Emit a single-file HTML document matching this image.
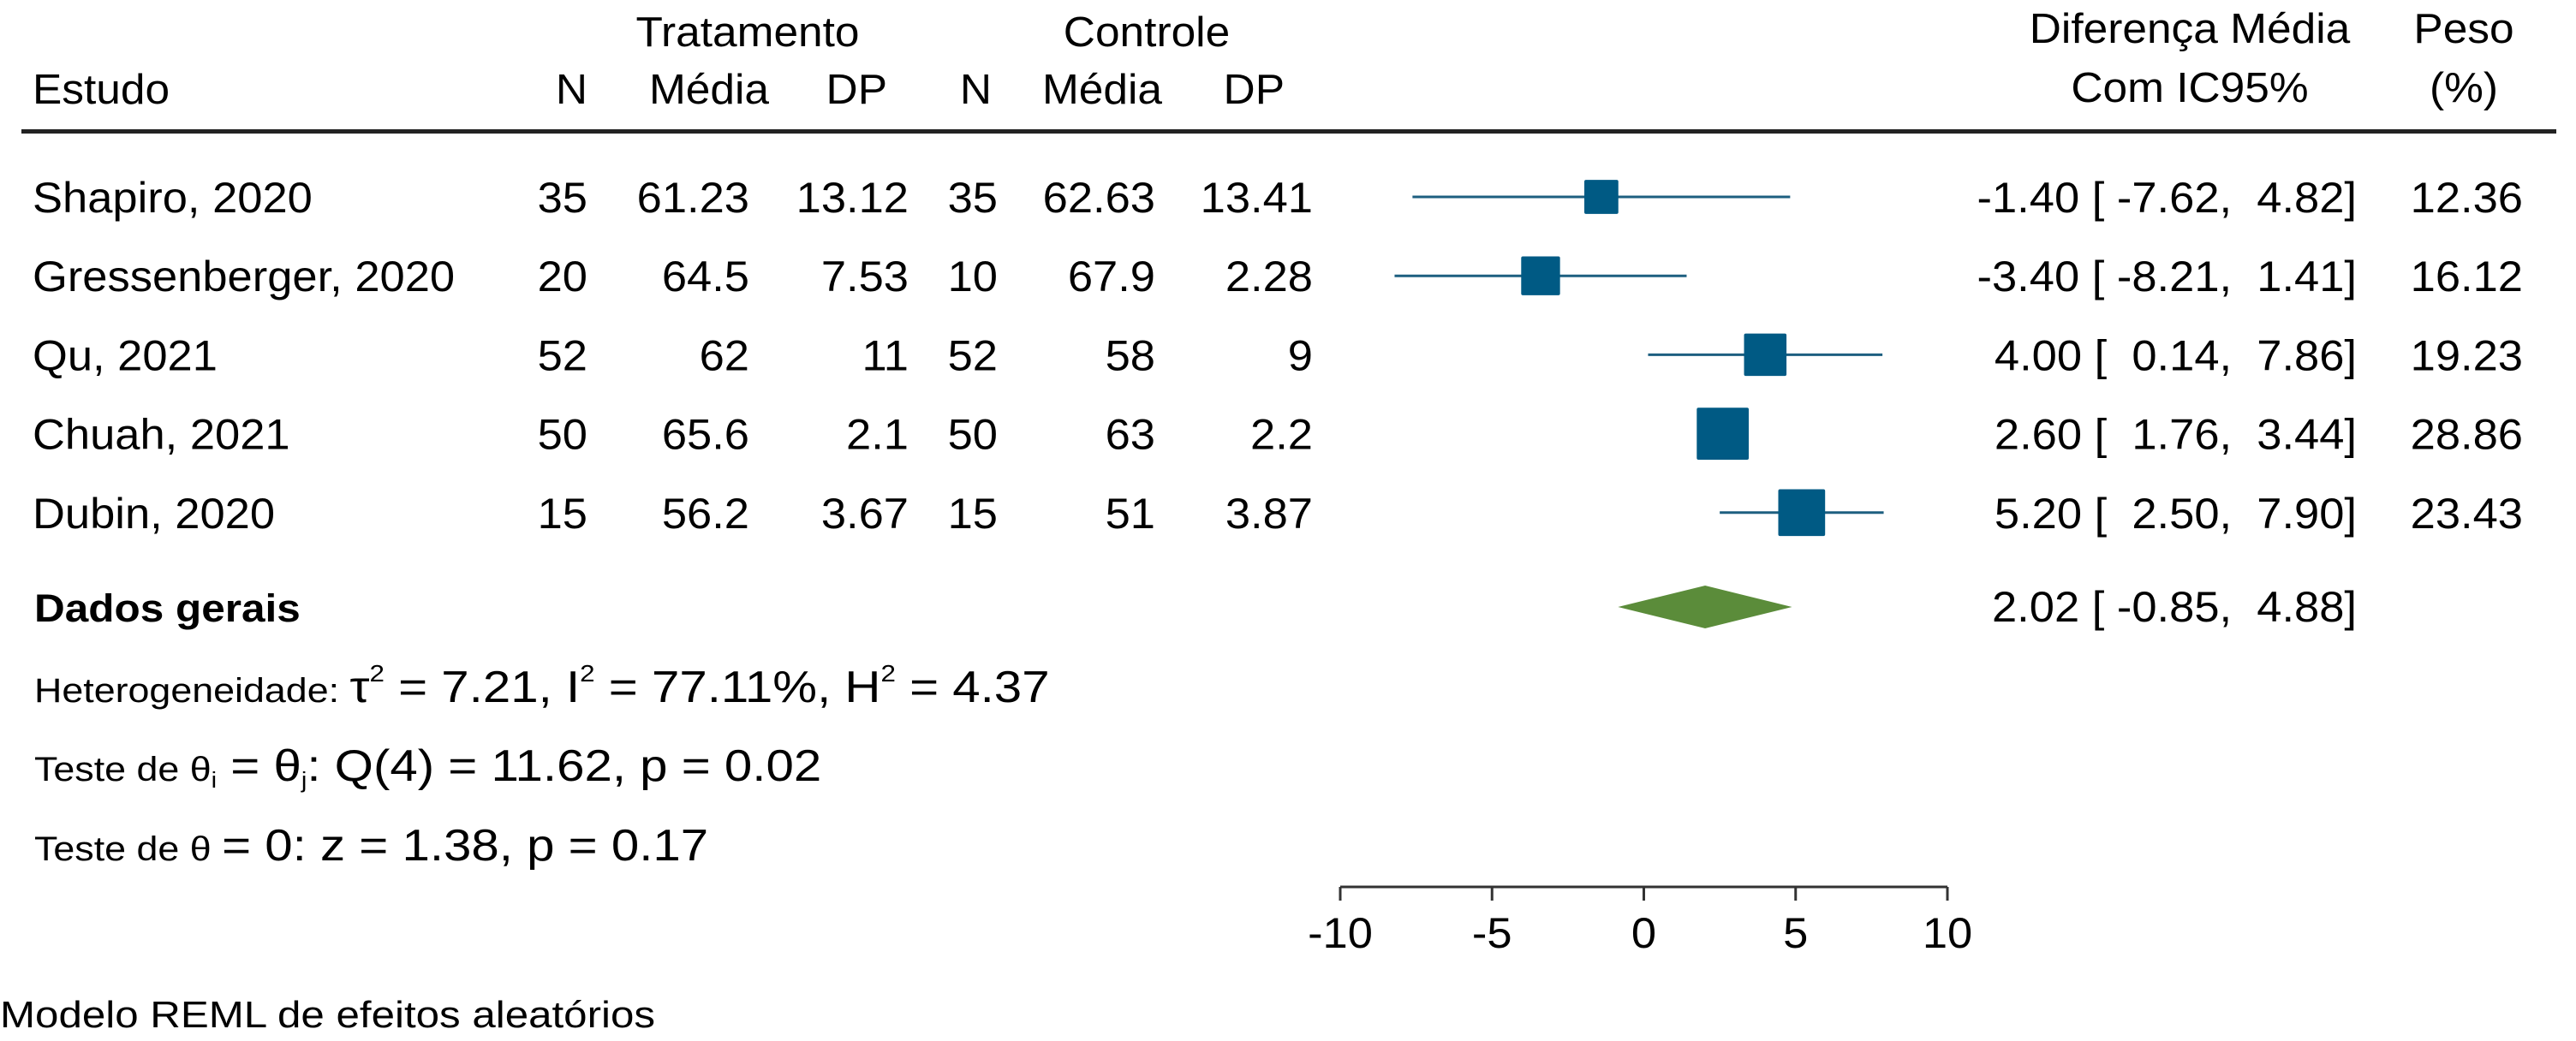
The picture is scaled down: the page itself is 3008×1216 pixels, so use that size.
<!DOCTYPE html>
<html><head><meta charset="utf-8">
<style>
html,body{margin:0;padding:0;background:#fff;}
svg{display:block;font-family:"Liberation Sans",Arial,sans-serif;}
text{fill:#000;}
</style></head>
<body>
<svg id="chart" width="3008" height="1216" viewBox="0 0 3008 1216" xmlns="http://www.w3.org/2000/svg">
  <g id="hdr" font-size="49">
    <text transform="translate(873,54) scale(1.05,1)" text-anchor="middle">Tratamento</text>
    <text transform="translate(1339,54) scale(1.05,1)" text-anchor="middle">Controle</text>
    <text transform="translate(38,121) scale(1.05,1)">Estudo</text>
    <text transform="translate(686,121) scale(1.05,1)" text-anchor="end">N</text>
    <text transform="translate(828,121) scale(1.05,1)" text-anchor="middle">Média</text>
    <text transform="translate(1036,121) scale(1.05,1)" text-anchor="end">DP</text>
    <text transform="translate(1158,121) scale(1.05,1)" text-anchor="end">N</text>
    <text transform="translate(1287,121) scale(1.05,1)" text-anchor="middle">Média</text>
    <text transform="translate(1500,121) scale(1.05,1)" text-anchor="end">DP</text>
    <text transform="translate(2557,50) scale(1.05,1)" text-anchor="middle">Diferença Média</text>
    <text transform="translate(2557,119) scale(1.05,1)" text-anchor="middle">Com IC95%</text>
    <text transform="translate(2877,50) scale(1.05,1)" text-anchor="middle">Peso</text>
    <text transform="translate(2877,119) scale(1.05,1)" text-anchor="middle">(%)</text>
  </g>
  <rect x="25" y="151" width="2960" height="5" fill="#222"/>
  <g id="rows"></g>
  <g id="marks"></g>
  <g id="axis"></g>
  <g>
    <text font-weight="bold" font-size="45" transform="translate(40,726) scale(1.1,1)">Dados gerais</text>
    <text transform="translate(40,820) scale(1.12,1)"><tspan font-size="40">Heterogeneidade: </tspan><tspan font-size="52"> τ</tspan><tspan font-size="28" dy="-24">2</tspan><tspan font-size="52" dy="24"> = 7.21, I</tspan><tspan font-size="28" dy="-24">2</tspan><tspan font-size="52" dy="24"> = 77.11%, H</tspan><tspan font-size="28" dy="-24">2</tspan><tspan font-size="52" dy="24"> = 4.37</tspan></text>
    <text transform="translate(40,912) scale(1.12,1)"><tspan font-size="40">Teste de θ</tspan><tspan font-size="26" dy="8">i</tspan><tspan font-size="52" dy="-8">  = θ</tspan><tspan font-size="26" dy="8">j</tspan><tspan font-size="52" dy="-8">: Q(4) = 11.62, p = 0.02</tspan></text>
    <text transform="translate(40,1005) scale(1.12,1)"><tspan font-size="40">Teste de θ </tspan><tspan font-size="52"> = 0: z = 1.38, p = 0.17</tspan></text>
    <text font-size="44" transform="translate(0,1200) scale(1.12,1)">Modelo REML de efeitos aleatórios</text>
  </g>
</svg>
<script>
const studies = ["Shapiro, 2020","Gressenberger, 2020","Qu, 2021","Chuah, 2021","Dubin, 2020"];
const nTrat = ["35","20","52","50","15"];
const meanTrat = ["61.23","64.5","62","65.6","56.2"];
const sdTrat = ["13.12","7.53","11","2.1","3.67"];
const nCtrl = ["35","10","52","50","15"];
const meanCtrl = ["62.63","67.9","58","63","51"];
const sdCtrl = ["13.41","2.28","9","2.2","3.87"];
const effect = [-1.40,-3.40,4.00,2.60,5.20];
const ciLow = [-7.62,-8.21,0.14,1.76,2.50];
const ciHigh = [4.82,1.41,7.86,3.44,7.90];
const weight = [12.36,16.12,19.23,28.86,23.43];
const overall = [2.02,-0.85,4.88];
const ticks = [-10,-5,0,5,10];

const NS="http://www.w3.org/2000/svg";
const x0=1565, x1=2274, dmin=-10, dmax=10;
function xs(v){return x0+(v-dmin)/(dmax-dmin)*(x1-x0);}
function ys(i){return 230+i*92.2;}
function fmt(v){return v.toFixed(2);}
function pad(s,n){while(s.length<n)s=" "+s;return s;}

const rows=document.getElementById('rows');
const marks=document.getElementById('marks');
const axis=document.getElementById('axis');

function txt(parent,x,y,str,anchor){
  const t=document.createElementNS(NS,'text');
  t.setAttribute('transform','translate('+x+','+y+') scale(1.05,1)');
  t.setAttribute('font-size','50');
  t.setAttribute('text-anchor',anchor);
  t.setAttribute('xml:space','preserve');
  t.style.whiteSpace='pre';
  t.textContent=str;
  parent.appendChild(t);
  return t;
}

studies.forEach((s,i)=>{
  const by=ys(i)+18;
  let t;
  t=txt(rows,38,by,s,'start');
  
  
  t=txt(rows,686,by,nTrat[i],'end');
  
  
  t=txt(rows,875,by,meanTrat[i],'end');
  
  
  t=txt(rows,1061,by,sdTrat[i],'end');
  
  
  t=txt(rows,1165,by,nCtrl[i],'end');
  
  
  t=txt(rows,1349,by,meanCtrl[i],'end');
  
  
  t=txt(rows,1533,by,sdCtrl[i],'end');
  
  
  t=txt(rows,2752,by,pad(fmt(effect[i]),5)+" [ "+pad(fmt(ciLow[i]),5)+",  "+pad(fmt(ciHigh[i]),4)+"]",'end');
  
  
  t=txt(rows,2946,by,fmt(weight[i]),'end');
  
  

  const l=document.createElementNS(NS,'line');
  
  
  l.setAttribute('x1',xs(ciLow[i]));l.setAttribute('x2',xs(ciHigh[i]));
  l.setAttribute('y1',ys(i));l.setAttribute('y2',ys(i));
  l.setAttribute('stroke','#1d5f80');l.setAttribute('stroke-width','3');
  marks.appendChild(l);
  const side=11.3*Math.sqrt(weight[i]);
  const r=document.createElementNS(NS,'rect');
  
  
  r.setAttribute('x',xs(effect[i])-side/2);r.setAttribute('y',ys(i)-side/2);
  r.setAttribute('width',side);r.setAttribute('height',side);
  r.setAttribute('fill','#005a84');r.setAttribute('rx','2');
  marks.appendChild(r);
});

const dy=709, dh=25;
const dm=document.createElementNS(NS,'polygon');


dm.setAttribute('points',[xs(overall[1])+','+dy, xs(overall[0])+','+(dy-dh), xs(overall[2])+','+dy, xs(overall[0])+','+(dy+dh)].join(' '));
dm.setAttribute('fill','#5b8c3a');
marks.appendChild(dm);
let ot=txt(rows,2752,726,fmt(overall[0])+" [ "+fmt(overall[1])+",  "+fmt(overall[2])+"]",'end');



const ay=1036;
const al=document.createElementNS(NS,'line');


al.setAttribute('x1',xs(ticks[0]));al.setAttribute('x2',xs(ticks[ticks.length-1]));
al.setAttribute('y1',ay);al.setAttribute('y2',ay);
al.setAttribute('stroke','#333');al.setAttribute('stroke-width','3');
axis.appendChild(al);
ticks.forEach(v=>{
  const tk=document.createElementNS(NS,'line');
  
  
  tk.setAttribute('x1',xs(v));tk.setAttribute('x2',xs(v));
  tk.setAttribute('y1',ay);tk.setAttribute('y2',ay+16);
  tk.setAttribute('stroke','#333');tk.setAttribute('stroke-width','3');
  axis.appendChild(tk);
  const lb=txt(axis,xs(v),1107,String(v),'middle');
  
  
});
</script>
</body></html>
